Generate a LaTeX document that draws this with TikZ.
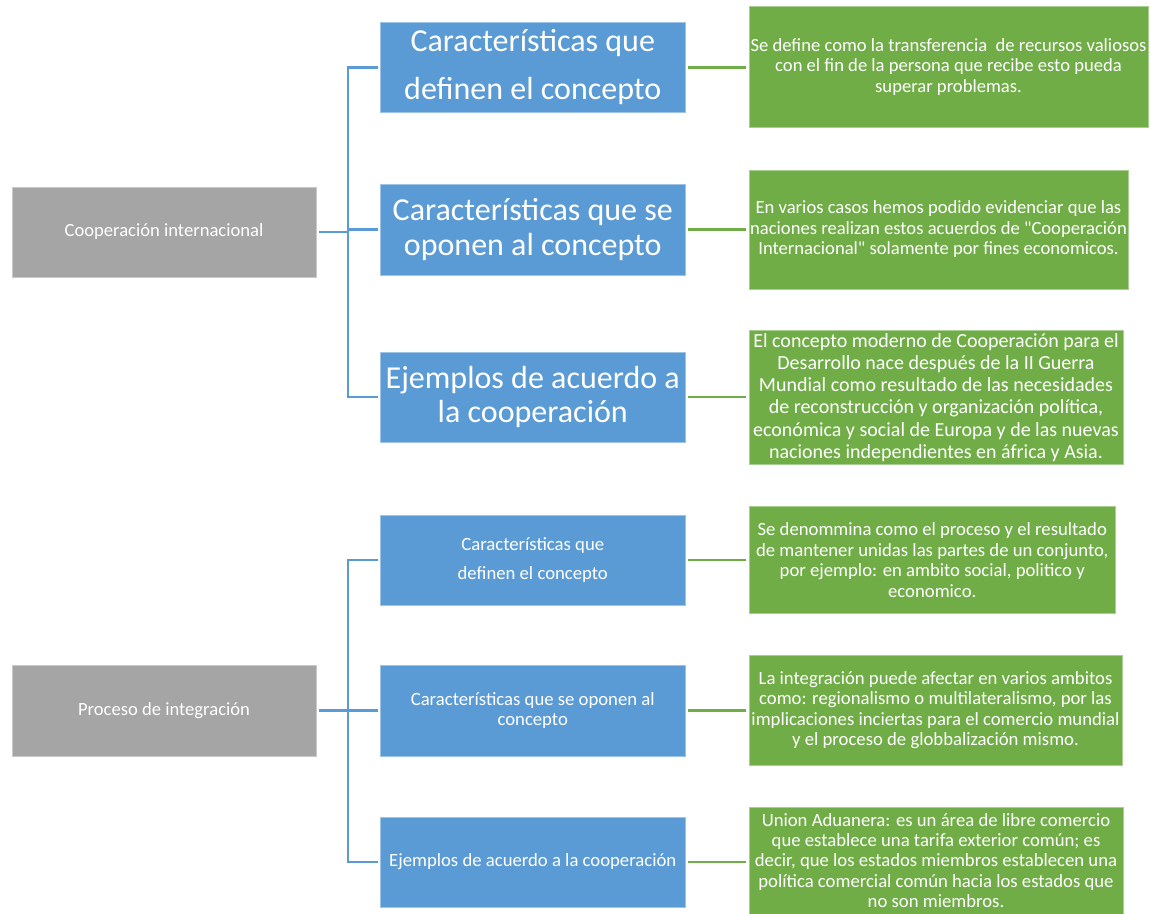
\documentclass[tikz,border=0pt]{standalone}
\usepackage{fontspec}
\setmainfont{Carlito}[Ligatures=TeXOff]
\begin{document}
\begin{tikzpicture}[x=1pt,y=-1pt,
  box/.style={anchor=north west,inner sep=0pt,outer sep=0pt,align=center,text=white,draw=white!40!#1,line width=0.6pt,fill=#1},
  graybox/.style={box=grayc},
  bluebox/.style={box=bluec},
  greenbox/.style={box=greenc},
  bl/.style={draw=bluec,line width=2.6pt},
  gl/.style={draw=greenc,line width=2.6pt,shorten <=3pt,shorten >=3pt}]
\definecolor{grayc}{HTML}{A5A5A5}
\definecolor{bluec}{HTML}{5B9BD5}
\definecolor{greenc}{HTML}{70AD47}
\useasboundingbox[fill=white] (0,0) rectangle (1151,913);
\newcommand{\fs}[2]{\fontsize{#1}{#2}\selectfont}

% gray
\node[graybox,minimum width=304pt,minimum height=90pt,font=\fs{18.6}{22}] (g1) at (12,187) {Cooperación internacional};
\node[graybox,minimum width=304pt,minimum height=91pt,font=\fs{18.6}{22}] (g2) at (12,665) {Proceso de integración};

% blue top
\node[bluebox,minimum width=304.5pt,minimum height=90.5pt,font=\fs{32}{48}] (b1) at (380.5,22) {Características que\\definen el concepto};
\node[bluebox,minimum width=304.5pt,minimum height=91pt,font=\fs{32}{34.5}] (b2) at (380.5,184) {Características que se\\oponen al concepto};
\node[bluebox,minimum width=304.5pt,minimum height=90pt,font=\fs{32}{34.5}] (b3) at (380.5,352) {Ejemplos de acuerdo a\\la cooperación};
% blue bottom
\node[bluebox,minimum width=304.5pt,minimum height=90pt,font=\fs{18.7}{29}] (b4) at (380.5,515) {Características que\\definen el concepto};
\node[bluebox,minimum width=304.5pt,minimum height=91pt,font=\fs{18.7}{20}] (b5) at (380.5,665) {Características que se oponen al\\concepto};
\node[bluebox,minimum width=304.5pt,minimum height=90pt,font=\fs{18.7}{20}] (b6) at (380.5,817) {Ejemplos de acuerdo a la cooperación};

% green
\node[greenbox,minimum width=399pt,minimum height=121pt,font=\fs{18.6}{20.5}] (t1) at (749,6.5) {Se define como la transferencia\ \ de recursos valiosos\\con el fin de la persona que recibe esto pueda\\superar problemas.};
\node[greenbox,minimum width=379pt,minimum height=119pt,font=\fs{18.6}{20.5}] (t2) at (749,170) {En varios casos hemos podido evidenciar que las\\naciones realizan estos acuerdos de "Cooperación\\Internacional" solamente por fines economicos.};
\node[greenbox,minimum width=374pt,minimum height=134pt,font=\fs{20}{22.2}] (t3) at (749,330.5) {El concepto moderno de Cooperación para el\\Desarrollo nace después de la II Guerra\\Mundial como resultado de las necesidades\\de reconstrucción y organización política,\\económica y social de Europa y de las nuevas\\naciones independientes en áfrica y Asia.};
\node[greenbox,minimum width=366.5pt,minimum height=107pt,font=\fs{18.7}{20.5}] (t4) at (749,506.5) {Se denommina como el proceso y el resultado\\de mantener unidas las partes de un conjunto,\\por ejemplo: en ambito social, politico y\\economico.};
\node[greenbox,minimum width=373pt,minimum height=110pt,font=\fs{18.7}{20.5}] (t5) at (749,655) {La integración puede afectar en varios ambitos\\como: regionalismo o multilateralismo, por las\\implicaciones inciertas para el comercio mundial\\y el proceso de globbalización mismo.};
\node[greenbox,minimum width=374pt,minimum height=107pt,font=\fs{18.7}{20.3}] (t6) at (749,807) {Union Aduanera: es un área de libre comercio\\que establece una tarifa exterior común; es\\decir, que los estados miembros establecen una\\política comercial común hacia los estados que\\no son miembros.};

% blue connectors
\coordinate (j1) at (348,232);
\coordinate (j2) at (348,710);
\draw[bl,shorten <=3pt] (b1.west) -| (j1) |- ([xshift=-3pt]b3.west);
\draw[bl,shorten <=3pt] (b2.west) -- (b2.west -| j1);
\draw[bl,shorten <=3pt] (g1.east) -- (g1.east -| j1);
\draw[bl,shorten <=3pt] (b4.west) -| (j2) |- ([xshift=-3pt]b6.west);
\draw[bl,shorten <=3pt] (b5.west) -- (b5.west -| j2);
\draw[bl,shorten <=3pt] (g2.east) -- (g2.east -| j2);

% green connectors
\draw[gl] (b1.east) -- (b1.east -| t1.west);
\draw[gl] (b2.east) -- (b2.east -| t2.west);
\draw[gl] (b3.east) -- (b3.east -| t3.west);
\draw[gl] (b4.east) -- (b4.east -| t4.west);
\draw[gl] (b5.east) -- (b5.east -| t5.west);
\draw[gl] (b6.east) -- (b6.east -| t6.west);
\end{tikzpicture}
\end{document}
